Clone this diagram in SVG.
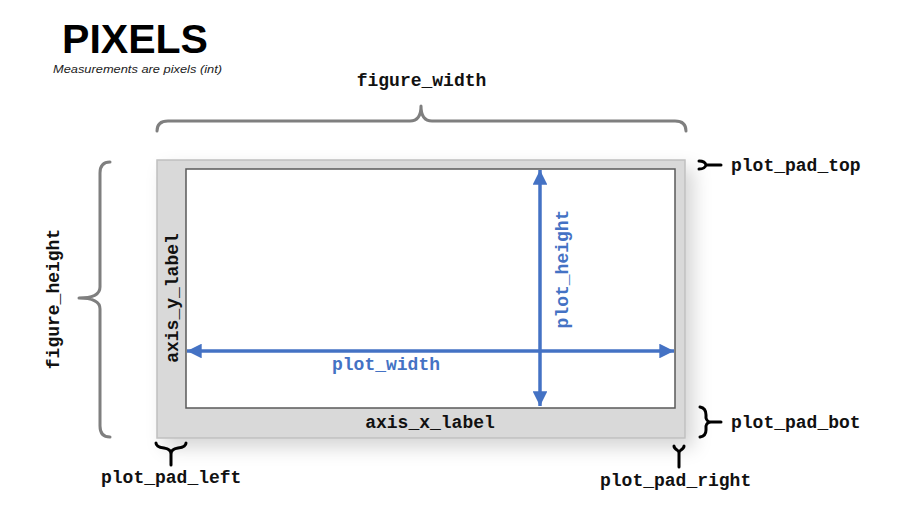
<svg xmlns="http://www.w3.org/2000/svg" width="902" height="523" viewBox="0 0 902 523">
<style>
.lbl{font-family:"Liberation Mono","Courier New",monospace;font-weight:bold;font-size:18px;fill:#111}
.blue{fill:#4472C4}
.gb{fill:none;stroke:#7f7f7f;stroke-width:3;stroke-linecap:round;stroke-linejoin:round}
.kb{fill:none;stroke:#000;stroke-width:3;stroke-linecap:round;stroke-linejoin:round}
.arr{stroke:#4472C4;stroke-width:3.5;fill:none}
</style>
<defs>
<filter id="sh" x="-10%" y="-10%" width="130%" height="140%">
<feDropShadow dx="8" dy="9" stdDeviation="9" flood-color="#000" flood-opacity="0.16"/>
</filter>
<marker id="ah" viewBox="0 0 10 10" refX="10" refY="5" markerWidth="4.6" markerHeight="4.2" orient="auto-start-reverse" markerUnits="strokeWidth">
<path d="M0,0 L10,5 L0,10 Z" fill="#4472C4"/>
</marker>
</defs>
<rect width="902" height="523" fill="#fff"/>
<g id="title">
<text x="62" y="53" font-family="'Liberation Sans',Arial,sans-serif" font-weight="bold" font-size="40" textLength="146" lengthAdjust="spacingAndGlyphs" fill="#000">PIXELS</text>
<text x="53" y="73" font-family="'Liberation Sans',Arial,sans-serif" font-style="italic" font-size="11.5" textLength="169" lengthAdjust="spacingAndGlyphs" fill="#222">Measurements are pixels (int)</text>
</g>
<g id="figure">
<rect x="157" y="160" width="528" height="278" fill="#d9d9d9" stroke="#bfbfbf" stroke-width="1.5" filter="url(#sh)"/>
</g>
<g id="plot">
<rect x="186" y="169" width="489" height="239" fill="#fff" stroke="#595959" stroke-width="1.5"/>
</g>
<g id="connectors">
<line class="arr" x1="187" y1="351" x2="674" y2="351" marker-start="url(#ah)" marker-end="url(#ah)"/>
<line class="arr" x1="540" y1="170" x2="540" y2="406" marker-start="url(#ah)" marker-end="url(#ah)"/>
<path class="gb" d="M157,131 Q157,121 168,121 L410,121 Q421,121 421,106 Q421,121 432,121 L675,121 Q686,121 686,131"/>
<path class="gb" d="M110,162 Q100,162 100,173 L100,287 Q100,298 79,298 Q100,298 100,309 L100,426 Q100,437 110,437"/>
<path class="kb" d="M699,161 Q705,161 706,165 Q705,169 699,169 M706,165 L721,165"/>
<path class="kb" d="M700,407 Q706,408 706,415 L706,418 Q707,422 711,422 Q707,422 706,426 L706,430 Q706,436 700,437 M711,422 L721,422"/>
<path class="kb" d="M156,443 Q156,447 164,448 Q171,449 171,454 Q171,449 178,448 Q186,447 186,443 M171,454 L171,465"/>
<path class="kb" d="M674,446 Q674,448 677,450 Q679,451 679,453 Q679,451 681,450 Q684,448 684,446 M679,453 L679,467"/>
</g>
<g id="labels">
<text class="lbl" x="421.5" y="86" text-anchor="middle">figure_width</text>
<text class="lbl" transform="translate(59,299) rotate(-90)" text-anchor="middle">figure_height</text>
<text class="lbl" transform="translate(178,298) rotate(-90)" text-anchor="middle">axis_y_label</text>
<text class="lbl" x="430" y="428" text-anchor="middle">axis_x_label</text>
<text class="lbl blue" x="386" y="370" text-anchor="middle">plot_width</text>
<text class="lbl blue" transform="translate(568,269) rotate(-90)" text-anchor="middle">plot_height</text>
<text class="lbl" x="731" y="171">plot_pad_top</text>
<text class="lbl" x="731" y="428">plot_pad_bot</text>
<text class="lbl" x="101" y="483">plot_pad_left</text>
<text class="lbl" x="600" y="486">plot_pad_right</text>
</g>
</svg>
